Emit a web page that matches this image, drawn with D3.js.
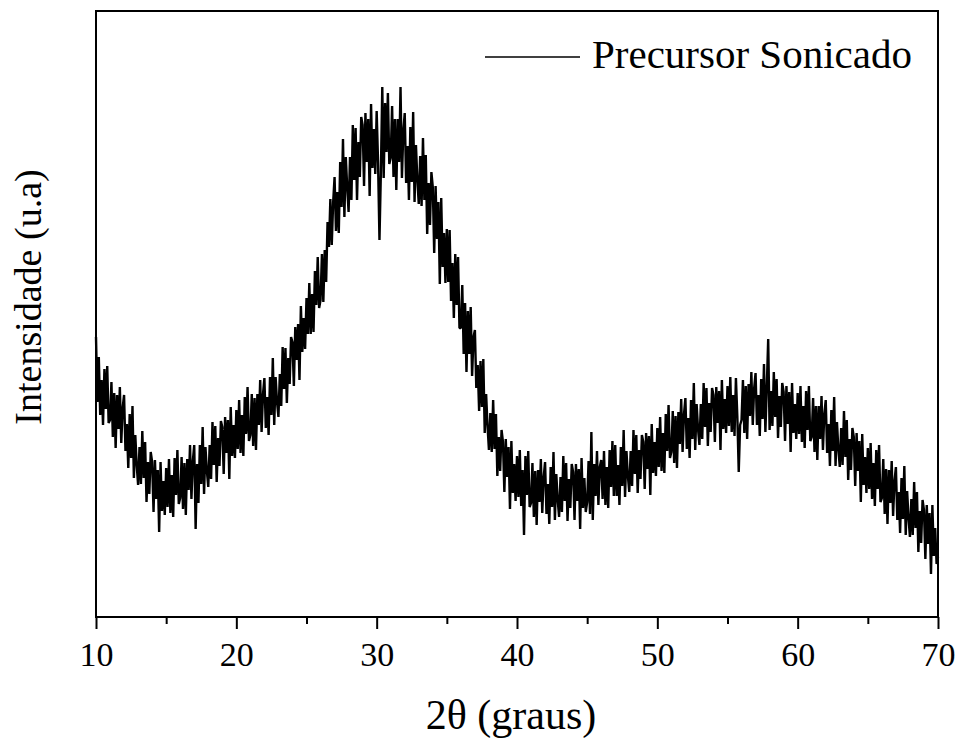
<!DOCTYPE html>
<html>
<head>
<meta charset="utf-8">
<script src="https://cdn.jsdelivr.net/npm/d3@7"></script>
<style>
  html, body { margin: 0; padding: 0; background: #fff; }
  svg { display: block; }
  text { font-family: "Liberation Serif", "Times New Roman", serif; fill: #000; }
</style>
</head>
<body>
<svg id="chart" width="960" height="740"></svg>
<script>
// ---- data ----
const seriesName = "Precursor Sonicado";
const xTitle = "2θ (graus)";
const yTitle = "Intensidade (u.a)";
const xTicks = [10, 20, 30, 40, 50, 60, 70];
const xMinorTicks = [15, 25, 35, 45, 55, 65];
const twoThetaStart = 10;
const twoThetaStep = 0.1;
// intensity (arbitrary units), one value every 0.1 degree from 10 to 70
const intensity = [
  280,215,260,202,237,192,248,208,251,194,
  197,235,180,224,169,222,188,230,174,209,
  222,166,193,149,203,159,211,139,182,152,
  132,170,133,186,139,175,115,155,123,165,
  155,105,157,118,147,85,155,106,136,102,
  149,110,158,104,142,100,159,122,167,113,
  119,160,108,154,102,158,127,172,118,156,
  172,88,153,114,172,133,190,123,170,146,
  130,172,138,195,152,191,135,179,151,196,
  190,143,200,164,197,138,210,161,192,159,
  207,168,217,164,202,161,220,183,230,176,
  182,223,171,219,167,223,192,237,185,223,
  239,189,220,182,240,202,259,192,240,215,
  200,243,211,270,228,269,214,259,233,280,
  275,231,290,257,293,237,311,265,299,268,
  319,283,334,283,323,285,346,312,360,309,
  317,363,315,367,335,395,370,418,372,415,
  440,386,425,384,455,410,478,400,460,430,
  405,460,417,492,437,489,417,475,440,500,
  492,431,504,455,498,421,513,449,488,443,
  506,454,377,445,530,439,514,465,524,453,
  459,511,440,498,427,498,455,530,439,486,
  504,434,471,417,490,435,505,415,472,437,
  413,461,411,479,417,462,383,434,392,445,
  430,364,431,378,415,333,419,350,384,334,
  388,335,387,316,354,299,363,312,360,289,
  289,332,263,314,245,306,263,310,241,280,
  287,229,252,206,256,210,258,184,223,191,
  167,204,165,217,168,203,141,180,146,187,
  175,125,178,140,170,108,176,124,153,116,
  161,120,167,111,147,82,161,122,166,110,
  114,154,100,146,92,147,115,158,104,140,
  155,103,133,93,150,110,165,97,143,117,
  100,140,105,161,116,154,96,138,109,153,
  145,97,153,116,148,88,159,109,139,105,
  115,156,103,185,97,153,121,166,112,150,
  157,118,166,112,150,109,167,130,176,121,
  172,121,152,112,170,131,187,120,166,141,
  125,166,131,187,143,182,124,167,138,182,
  175,128,184,148,181,122,193,144,175,141,
  189,150,200,146,184,144,203,166,212,159,
  165,206,154,201,149,205,173,218,165,203,
  219,168,199,159,217,178,234,167,213,188,
  172,213,178,234,190,229,171,214,185,229,
  222,175,230,194,226,167,237,188,218,184,
  231,191,240,185,222,181,239,201,145,192,
  197,237,184,231,178,233,201,245,192,229,
  244,192,222,181,238,198,253,185,230,278,
  187,226,191,245,200,238,179,221,190,234,
  225,176,231,193,225,165,234,184,213,178,
  224,183,231,175,211,169,226,187,231,176,
  180,219,165,211,157,211,178,221,167,203,
  217,164,193,151,207,166,220,151,195,168,
  150,189,152,206,160,197,137,178,147,189,
  180,131,184,146,176,115,183,132,160,124,
  169,128,174,118,154,111,167,128,172,115,
  119,158,103,148,93,147,114,156,101,136,
  150,97,125,84,139,98,151,82,126,99,
  80,118,82,135,89,125,65,106,74,117,
  107,58,112,73,104,43,112,61,89,53,
  60
];

// ---- layout ----
const svg = d3.select("#chart");
const L = 96, R = 938, T = 11, B = 617;

const x = d3.scaleLinear().domain([10, 70]).range([L, R]);
const y = d3.scaleLinear().domain([0, 606]).range([B, T]);

const points = intensity.map((v, i) => ({ t: twoThetaStart + i * twoThetaStep, v }));

// data line
svg.append("path")
  .datum(points)
  .attr("fill", "none")
  .attr("stroke", "#000")
  .attr("stroke-width", 2.4)
  .attr("stroke-linejoin", "bevel")
  .attr("d", d3.line().x(d => x(d.t)).y(d => y(d.v)));

// frame
svg.append("rect")
  .attr("x", L).attr("y", T)
  .attr("width", R - L).attr("height", B - T)
  .attr("fill", "none").attr("stroke", "#000").attr("stroke-width", 2);

// bottom axis: major ticks with labels
const xAxis = d3.axisBottom(x).tickValues(xTicks).tickSize(12).tickPadding(13)
  .tickFormat(d3.format("d"));
const gx = svg.append("g").attr("transform", `translate(0,${B})`).call(xAxis);
gx.select(".domain").remove();
gx.selectAll(".tick line").attr("stroke", "#000").attr("stroke-width", 2);
gx.selectAll(".tick text")
  .attr("font-size", 34)
  .attr("fill", "#000");

// minor ticks
const xMinor = d3.axisBottom(x).tickValues(xMinorTicks).tickSize(7).tickFormat("");
const gm = svg.append("g").attr("transform", `translate(0,${B})`).call(xMinor);
gm.select(".domain").remove();
gm.selectAll(".tick line").attr("stroke", "#000").attr("stroke-width", 2);

// axis titles
svg.append("text")
  .attr("x", 511).attr("y", 729)
  .attr("text-anchor", "middle")
  .attr("font-size", 42)
  .text(xTitle);

svg.append("text")
  .attr("transform", "translate(41,297) rotate(-90)")
  .attr("text-anchor", "middle")
  .attr("font-size", 38)
  .text(yTitle);

// legend
svg.append("line")
  .attr("x1", 485).attr("x2", 580).attr("y1", 57).attr("y2", 57)
  .attr("stroke", "#000").attr("stroke-width", 1.3);
svg.append("text")
  .attr("x", 592).attr("y", 68)
  .attr("font-size", 41)
  .text(seriesName);
</script>
</body>
</html>
